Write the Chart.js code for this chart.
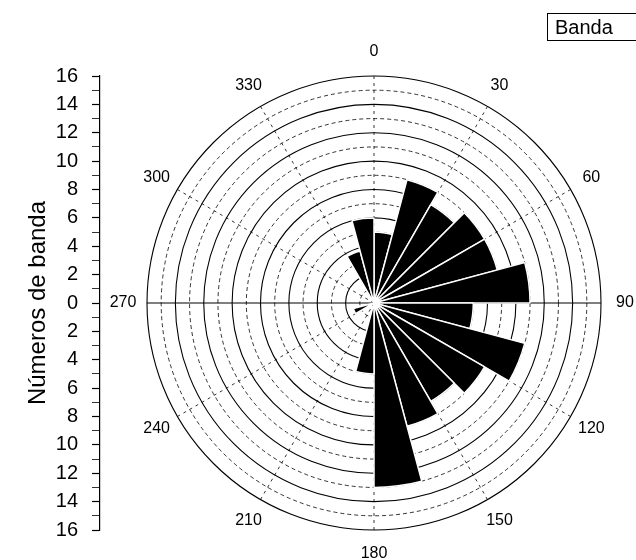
<!DOCTYPE html>
<html>
<head>
<meta charset="utf-8">
<script src="https://cdn.jsdelivr.net/npm/chart.js@4/dist/chart.umd.min.js"></script>
<style>
  html, body { margin: 0; padding: 0; background: #fff; }
  #wrap { position: relative; width: 636px; height: 560px; overflow: hidden; }
  #wrap canvas { position: absolute; top: 0; }
  #axis-chart { left: 0; }
  #rose-chart { left: 0; }
  .legend-box {
    position: absolute; left: 547px; top: 13px; height: 28px; width: 96px;
    border: 1px solid #000; box-sizing: border-box;
    font: 20px "Liberation Sans", Arial, sans-serif; line-height: 26px;
    padding-left: 7px; color: #000;
  }
</style>
</head>
<body>
<div id="wrap">
  <canvas id="axis-chart" width="112" height="560"></canvas>
  <canvas id="rose-chart" width="636" height="560"></canvas>
  <div class="legend-box">Banda</div>
</div>
<script>
// bin start angles (deg, clockwise from north), 15 degree bins
const binStarts = [0, 15, 30, 45, 60, 75, 90, 105, 120, 135, 150, 165,
                   180, 195, 210, 225, 240, 255, 270, 285, 300, 315, 330, 345];
// number of bands in each bin
const bandCounts = [5, 9, 8, 9, 9, 11, 7, 11, 9, 8, 9, 13,
                    5, 0, 0, 0, 1.5, 0, 0, 0, 0, 0, 3.8, 6];
// angle labels around the rose
const angleTicks = [0, 30, 60, 90, 120, 150, 180, 210, 240, 270, 300, 330];
const radialMax = 16;
const binWidth = 15;

const FONT = '"Liberation Sans", Arial, sans-serif';

// draws the 0..330 labels centered just outside the outer ring
const angleLabels = {
  id: 'angleLabels',
  afterDraw(chart) {
    const r = chart.scales.r;
    const ctx = chart.ctx;
    ctx.save();
    ctx.font = '16px ' + FONT;
    ctx.fillStyle = '#000';
    ctx.textAlign = 'center';
    ctx.textBaseline = 'middle';
    angleTicks.forEach((a) => {
      const p = r.getPointPosition(a / binWidth, r.drawingArea + 24);
      ctx.fillText(String(a), p.x, p.y);
    });
    ctx.restore();
  }
};

// rose diagram
new Chart(document.getElementById('rose-chart'), {
  type: 'polarArea',
  data: {
    labels: binStarts.map(String),
    datasets: [{
      label: 'Banda',
      data: bandCounts,
      backgroundColor: '#000',
      borderColor: '#fff',
      borderWidth: 1.5
    }]
  },
  options: {
    responsive: false,
    animation: false,
    layout: { padding: { left: 147, right: 35, top: 76, bottom: 30 } },
    plugins: { legend: { display: false }, tooltip: { enabled: false } },
    scales: {
      r: {
        min: 0,
        max: radialMax,
        startAngle: 0,
        ticks: { display: false, stepSize: 1 },
        pointLabels: { display: false },
        grid: {
          circular: true,
          color: '#000',
          lineWidth: (c) => (c.tick && c.tick.value % 2 ? 0.8 : 1.1)
        },
        border: {
          dash: (c) => (c.tick && c.tick.value % 2 ? [4, 3] : [])
        },
        angleLines: {
          display: true,
          color: (c) => (c.index % 2 === 0 ? '#000' : 'rgba(0,0,0,0)'),
          lineWidth: (c) => (c.index % 12 === 6 ? 1.2 : 0.8),
          borderDash: (c) => (c.index % 12 === 6 ? [] : [3, 4])
        }
      }
    }
  },
  plugins: [angleLabels]
});

// left linear axis, 16 .. 0 .. 16
new Chart(document.getElementById('axis-chart'), {
  type: 'line',
  data: { labels: [''], datasets: [{ data: [] }] },
  options: {
    responsive: false,
    animation: false,
    layout: { padding: { left: 20, right: 10, top: 76, bottom: 30 } },
    plugins: { legend: { display: false }, tooltip: { enabled: false } },
    scales: {
      x: { display: false },
      y: {
        min: -radialMax,
        max: radialMax,
        afterFit: (s) => { s.width = 80; },
        ticks: {
          stepSize: 1,
          autoSkip: false,
          padding: 14,
          color: '#000',
          font: { family: FONT, size: 20 },
          callback: (v) => (v % 2 === 0 ? String(Math.abs(v)) : '')
        },
        grid: {
          drawOnChartArea: false,
          tickLength: 8,
          tickColor: '#000',
          tickWidth: (c) => (c.tick && c.tick.value % 2 ? 0.8 : 1.2)
        },
        border: { color: '#000', width: 1.2 },
        title: {
          display: true,
          text: 'Números de banda',
          color: '#000',
          font: { family: FONT, size: 24 },
          padding: { top: 4, bottom: 4 }
        }
      }
    }
  }
});
</script>
</body>
</html>
